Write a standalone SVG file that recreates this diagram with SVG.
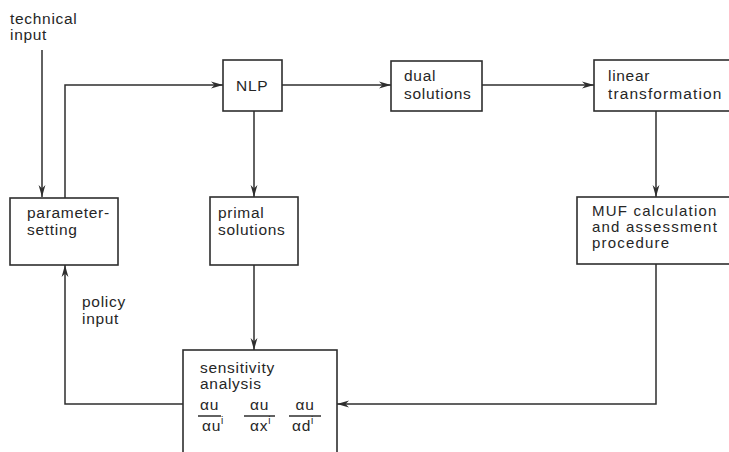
<svg xmlns="http://www.w3.org/2000/svg" width="729" height="452" viewBox="0 0 729 452">
  <style>
    .box { fill: none; stroke: #2e2e2e; stroke-width: 1.6; }
    .wire { fill: none; stroke: #2e2e2e; stroke-width: 1.5; }
    text { font-family: "Liberation Sans", "DejaVu Sans", sans-serif; font-size: 15.5px; fill: #262626; letter-spacing: 0.7px; }
    .wide { letter-spacing: 1.1px; }
    .muf { font-size: 15px; letter-spacing: 1.2px; }
    .sup { font-size: 10px; }
  </style>
  <defs>
    <marker id="arr" viewBox="0 0 12 8" refX="12" refY="4" markerWidth="12" markerHeight="8" markerUnits="userSpaceOnUse" orient="auto">
      <path d="M0,0.6 L12,4 L0,7.4 L3.5,4 Z" fill="#2e2e2e"/>
    </marker>
  </defs>

  <rect width="729" height="452" fill="#ffffff"/>

  <g id="connectors">
    <!-- technical input into parameter-setting -->
    <path class="wire" d="M42,50 V197" marker-end="url(#arr)"/>
    <!-- parameter-setting up and across to NLP -->
    <path class="wire" d="M65,198 V85 H223" marker-end="url(#arr)"/>
    <!-- NLP to dual solutions -->
    <path class="wire" d="M282,85 H391" marker-end="url(#arr)"/>
    <!-- dual solutions to linear transformation -->
    <path class="wire" d="M482,85 H594" marker-end="url(#arr)"/>
    <!-- linear transformation down to MUF -->
    <path class="wire" d="M656,111 V197" marker-end="url(#arr)"/>
    <!-- NLP down to primal solutions -->
    <path class="wire" d="M254,111 V197" marker-end="url(#arr)"/>
    <!-- primal solutions down to sensitivity analysis -->
    <path class="wire" d="M254,265 V350" marker-end="url(#arr)"/>
    <!-- MUF back to sensitivity analysis -->
    <path class="wire" d="M656,264 V404 H337" marker-end="url(#arr)"/>
    <!-- sensitivity analysis back to parameter-setting (policy input) -->
    <path class="wire" d="M183,404 H65 V265" marker-end="url(#arr)"/>
  </g>

  <g id="technical-input">
    <text x="10" y="24">technical</text>
    <text x="10" y="40">input</text>
  </g>

  <g id="policy-input">
    <text x="82" y="307">policy</text>
    <text x="82" y="324">input</text>
  </g>

  <g id="parameter-setting">
    <rect class="box" x="10" y="198" width="108" height="67"/>
    <text x="27" y="218">parameter-</text>
    <text x="27" y="235">setting</text>
  </g>

  <g id="nlp">
    <rect class="box" x="223" y="60" width="59" height="51"/>
    <text x="236" y="91">NLP</text>
  </g>

  <g id="dual-solutions">
    <rect class="box" x="391" y="61" width="91" height="50"/>
    <text x="404" y="81">dual</text>
    <text x="404" y="99">solutions</text>
  </g>

  <g id="linear-transformation">
    <rect class="box" x="594" y="60" width="145" height="51"/>
    <text x="608" y="81">linear</text>
    <text class="wide" x="608" y="99">transformation</text>
  </g>

  <g id="primal-solutions">
    <rect class="box" x="210" y="197" width="88" height="68"/>
    <text x="218" y="218">primal</text>
    <text x="218" y="235">solutions</text>
  </g>

  <g id="muf-calculation">
    <rect class="box" x="577" y="197" width="162" height="67"/>
    <text class="muf" x="592" y="216">MUF calculation</text>
    <text class="muf" x="592" y="232">and assessment</text>
    <text class="muf" x="592" y="248">procedure</text>
  </g>

  <g id="sensitivity-analysis">
    <rect class="box" x="183" y="350" width="154" height="120"/>
    <text x="200" y="373">sensitivity</text>
    <text x="200" y="389">analysis</text>
    <!-- partial derivative fractions -->
    <g class="wire">
      <path d="M198,416 H221"/>
      <path d="M244,416 H275"/>
      <path d="M289,416 H321"/>
    </g>
    <text x="209.5" y="410" text-anchor="middle">αu</text>
    <text x="259.5" y="410" text-anchor="middle">αu</text>
    <text x="305" y="410" text-anchor="middle">αu</text>
    <text x="202" y="431">αu<tspan class="sup" dy="-7">i</tspan></text>
    <text x="250" y="431">αx<tspan class="sup" dy="-7">i</tspan></text>
    <text x="292" y="431">αd<tspan class="sup" dy="-7">i</tspan></text>
  </g>
</svg>
